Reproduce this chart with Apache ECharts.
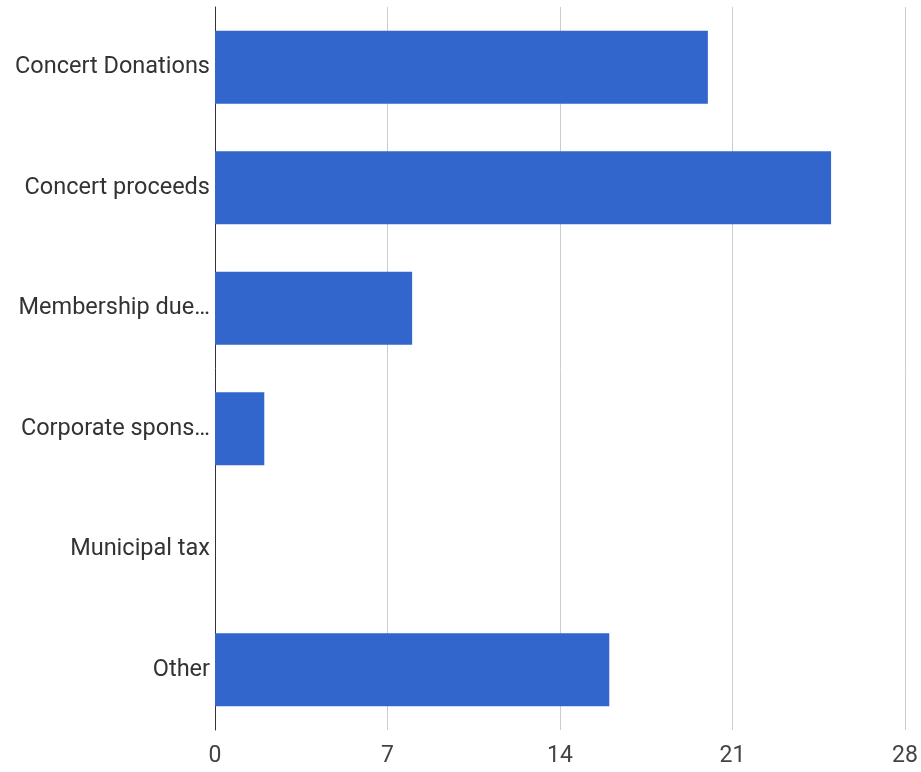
<!DOCTYPE html>
<html>
<head>
<meta charset="utf-8">
<script src="https://cdn.jsdelivr.net/npm/echarts@6/dist/echarts.min.js"></script>
<style>
  html, body { margin: 0; padding: 0; background: #fff; }
  #chart { width: 921px; height: 772px; }
</style>
</head>
<body>
<div id="chart"></div>
<script>
// Funding sources, top to bottom
const categories = ['Concert Donations', 'Concert proceeds', 'Membership due…', 'Corporate spons…', 'Municipal tax', 'Other'];
const amounts = [20, 25, 8, 2, 0, 16];
const tickStep = 7;
const axisMax = 28;

const chart = echarts.init(document.getElementById('chart'), null, { renderer: 'canvas' });
chart.setOption({
  animation: false,
  grid: { left: 215, right: 16, top: 7, bottom: 42, containLabel: false },
  xAxis: {
    type: 'value',
    min: 0,
    max: axisMax,
    interval: tickStep,
    axisLine: { show: false },
    axisTick: { show: false },
    splitLine: { lineStyle: { color: '#cccccc', width: 1 } },
    axisLabel: { color: '#444444', fontFamily: 'Roboto', fontSize: 23, margin: 15 }
  },
  yAxis: {
    type: 'category',
    inverse: true,
    data: categories,
    axisLine: { show: true, lineStyle: { color: '#333333', width: 1 } },
    axisTick: { show: false },
    axisLabel: { color: '#333333', fontFamily: 'Roboto', fontSize: 23.5, margin: 5 }
  },
  series: [{
    type: 'bar',
    data: amounts,
    barCategoryGap: '39.4%',
    itemStyle: { color: '#3366cc' }
  }]
});
</script>
</body>
</html>
